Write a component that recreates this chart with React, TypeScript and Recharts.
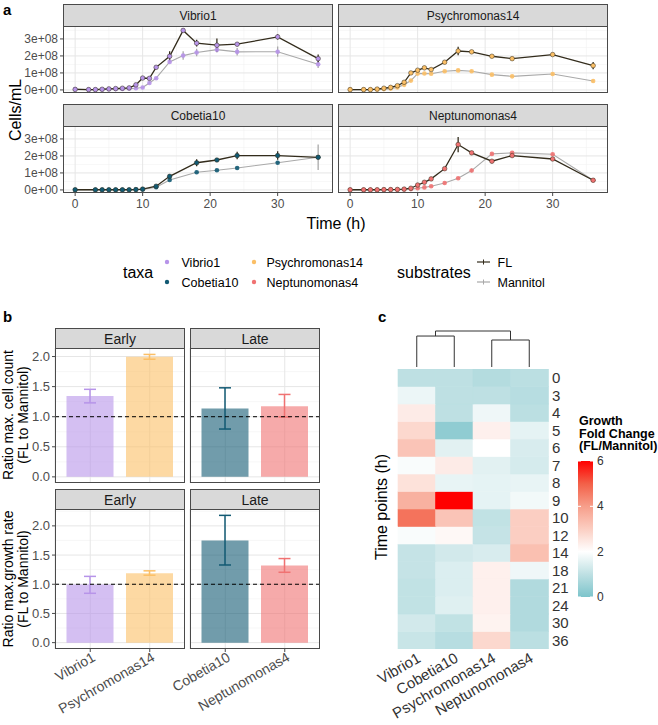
import React from 'react'
import { ComposedChart, Line, Bar, Cell, XAxis, YAxis, ErrorBar, CartesianGrid, ReferenceLine } from 'recharts'

const FONT = '"Liberation Sans", Arial, Helvetica, sans-serif'
const INK = '#1a1a1a'
const TICK = '#4d4d4d'
const BORDER = '#4a4a4a'
const STRIP = '#d9d9d9'

const taxa = ['Vibrio1', 'Cobetia10', 'Psychromonas14', 'Neptunomonas4']
const taxaColors = ['#b794e9', '#125a73', '#fbbf66', '#f07272']
const flColor = '#332c1c'
const manColor = '#a9a9a9'

// panel a: cell counts, in units of 1e8 cells/mL
const timesFull = [0, 2, 3, 4, 5, 6, 7, 8, 9, 10, 11, 12, 14, 16, 18, 21, 24, 30, 36]
const timesCobetia = [0, 3, 4, 5, 6, 7, 8, 9, 10, 12, 14, 18, 21, 24, 30, 36]

const vibrioFL = [0.03, 0.02, 0.02, 0.04, 0.06, 0.08, 0.1, 0.12, 0.3, 0.7, 0.68, 1.33, 1.98, 3.5, 2.75, 2.63, 2.69, 3.12, 1.84]
const vibrioFLsd = [0, 0, 0, 0, 0, 0, 0, 0, 0.03, 0.03, 0.03, 0.05, 0.3, 0.05, 0.2, 0.4, 0.12, 0.15, 0.25]
const vibrioMan = [0.05, 0.02, 0.02, 0.03, 0.04, 0.05, 0.06, 0.08, 0.1, 0.14, 0.41, 0.69, 1.65, 2.02, 2.2, 2.37, 2.24, 2.25, 1.51]
const vibrioMansd = [0, 0, 0, 0, 0, 0, 0, 0, 0, 0.02, 0.03, 0.03, 0.05, 0.25, 0.22, 0.17, 0.22, 0.3, 0.22]

const cobetiaFL = [0.01, 0.01, 0.01, 0.01, 0.01, 0.01, 0.01, 0.02, 0.05, 0.22, 0.8, 1.6, 1.76, 2.02, 2.02, 1.92]
const cobetiaFLsd = [0, 0, 0, 0, 0, 0, 0, 0, 0.02, 0.05, 0.08, 0.2, 0.05, 0.22, 0.25, 0.05]
const cobetiaMan = [0.01, 0.01, 0.01, 0.01, 0.01, 0.01, 0.01, 0.02, 0.03, 0.16, 0.59, 1.04, 1.16, 1.29, 1.6, 1.92]
const cobetiaMansd = [0, 0, 0, 0, 0, 0, 0, 0, 0.02, 0.04, 0.03, 0.03, 0.03, 0.03, 0.03, 0.75]

const psychroFL = [0.02, 0.02, 0.02, 0.05, 0.1, 0.15, 0.25, 0.45, 1.0, 1.16, 1.3, 1.2, 1.63, 2.29, 2.24, 1.98, 1.84, 2.08, 1.43]
const psychroFLsd = [0, 0, 0, 0, 0, 0, 0, 0, 0.02, 0.03, 0.03, 0.03, 0.04, 0.25, 0.08, 0.06, 0.06, 0.06, 0.22]
const psychroMan = [0.02, 0.02, 0.02, 0.03, 0.05, 0.08, 0.15, 0.3, 0.55, 0.96, 0.97, 0.95, 1.1, 1.15, 1.1, 0.9, 0.8, 0.94, 0.53]
const psychroMansd = [0, 0, 0, 0, 0, 0, 0, 0, 0.02, 0.02, 0.02, 0.02, 0.03, 0.03, 0.03, 0.03, 0.03, 0.03, 0.03]

const neptuFL = [0.01, 0.01, 0.01, 0.01, 0.02, 0.02, 0.03, 0.05, 0.1, 0.29, 0.45, 0.65, 1.25, 2.67, 2.18, 1.69, 2.02, 1.82, 0.57]
const neptuFLsd = [0, 0, 0, 0, 0, 0, 0, 0, 0.02, 0.03, 0.03, 0.04, 0.05, 0.45, 0.1, 0.12, 0.05, 0.05, 0.03]
const neptuMan = [0.01, 0.01, 0.01, 0.01, 0.01, 0.02, 0.02, 0.03, 0.05, 0.1, 0.15, 0.22, 0.41, 0.69, 1.14, 2.12, 2.18, 2.1, 0.57]
const neptuMansd = [0, 0, 0, 0, 0, 0, 0, 0, 0, 0.02, 0.02, 0.02, 0.03, 0.03, 0.12, 0.04, 0.04, 0.04, 0.03]

// panel b: FL / Mannitol ratios (mean, lower, upper)
const earlyTaxa = ['Vibrio1', 'Psychromonas14']
const lateTaxa = ['Cobetia10', 'Neptunomonas4']
const countEarly = [1.345, 1.995]
const countEarlyLow = [1.23, 1.955]
const countEarlyHigh = [1.455, 2.035]
const countLate = [1.135, 1.175]
const countLateLow = [0.795, 0.995]
const countLateHigh = [1.48, 1.37]
const rateEarly = [0.995, 1.19]
const rateEarlyLow = [0.845, 1.155]
const rateEarlyHigh = [1.135, 1.23]
const rateLate = [1.75, 1.32]
const rateLateLow = [1.33, 1.205]
const rateLateHigh = [2.18, 1.44]

// panel c: growth fold change heatmap, one array per taxon, rows follow timePoints
const timePoints = ['0', '3', '4', '5', '6', '7', '8', '9', '10', '12', '14', '18', '21', '24', '30', '36']
const heatVibrio1 = [1.0, 1.7, 2.4, 2.8, 3.2, 1.9, 2.6, 3.6, 4.7, 1.9, 1.1, 1.1, 1.05, 1.05, 1.3, 1.15]
const heatCobetia10 = [1.0, 1.0, 1.0, 0.3, 1.55, 2.4, 1.65, 6.0, 3.2, 2.15, 1.3, 1.45, 1.45, 1.5, 1.05, 0.9]
const heatPsychromonas14 = [0.85, 1.0, 1.75, 2.3, 2.0, 1.55, 1.6, 1.6, 1.05, 1.1, 1.4, 2.3, 2.3, 2.3, 2.25, 2.8]
const heatNeptunomonas4 = [0.95, 0.9, 0.95, 1.6, 1.4, 1.35, 1.65, 1.8, 3.0, 3.0, 3.3, 1.75, 0.8, 0.8, 0.8, 0.95]
const heatColumns = [heatVibrio1, heatCobetia10, heatPsychromonas14, heatNeptunomonas4]
const legendTicks = [0, 2, 4, 6]

// dendrogram merge heights (relative)
const mergeLeft = 0.86
const mergeRight = 0.75
const mergeRoot = 1.0

const heatStops: [number, number[]][] = [
  [0, [124, 196, 203]], [1, [190, 224, 227]], [2, [255, 255, 255]],
  [3, [251, 206, 194]], [4, [246, 158, 138]], [5, [243, 96, 72]], [6, [255, 0, 0]],
]

function heatColor(v: number) {
  let i = 0
  while (i < heatStops.length - 2 && v > heatStops[i + 1][0]) i++
  const [v0, c0] = heatStops[i]
  const [v1, c1] = heatStops[i + 1]
  const f = Math.max(0, Math.min(1, (v - v0) / (v1 - v0)))
  const c = c0.map((a, k) => Math.round(a + (c1[k] - a) * f))
  return `rgb(${c.join(',')})`
}

const colorOf = (name: string) => taxaColors[taxa.indexOf(name)]

const Strip = ({ x, y, w, h, label, size }: any) => (
  <div style={{ position: 'absolute', left: x, top: y, width: w, height: h + 1, boxSizing: 'border-box', background: STRIP, border: `1px solid ${BORDER}`, display: 'flex', alignItems: 'center', justifyContent: 'center', fontSize: size, color: INK, fontFamily: FONT }}>
    {label}
  </div>
)

const Frame = ({ x, y, w, h }: any) => (
  <div style={{ position: 'absolute', left: x, top: y, width: w, height: h, boxSizing: 'border-box', border: `1px solid ${BORDER}`, pointerEvents: 'none' }} />
)

const RotTick = ({ x, y, payload, size, dx, dy, fill }: any) => (
  <text x={x + dx} y={y + dy} transform={`rotate(-30 ${x + dx} ${y + dy})`} textAnchor="end" fontSize={size} fill={fill} fontFamily={FONT}>
    {payload.value}
  </text>
)

function GrowthPanel({ title, times, fl, flSd, man, manSd, x, y, showX, showY }: any) {
  const color = colorOf(title)
  const data = times.map((t: number, i: number) => ({ t, fl: fl[i], flSd: flSd[i], man: man[i], manSd: manSd[i] }))
  const W = 270
  const H = 67
  const yW = showY ? 58 : 0
  const xH = showX ? 24 : 0
  const padB = showX ? 0 : 10
  const tickStyle = { fontSize: 12, fill: TICK, fontFamily: FONT }
  return (
    <>
      <Strip x={x} y={y - 22} w={W} h={22} label={title} size={12} />
      <div style={{ position: 'absolute', left: x - yW, top: y }}>
        <ComposedChart width={W + yW} height={H + xH + padB} data={data} margin={{ top: 0, right: 0, bottom: padB, left: 0 }}>
          <CartesianGrid stroke="#f1f1f1" strokeWidth={0.6} verticalValues={[5, 15, 25, 35]} horizontalValues={[0.5, 1.5, 2.5, 3.5]} />
          <CartesianGrid stroke="#e6e6e6" strokeWidth={1} verticalValues={[0, 10, 20, 30]} horizontalValues={[0, 1, 2, 3]} />
          <XAxis type="number" dataKey="t" domain={[-1.8, 38.2]} allowDataOverflow ticks={[0, 10, 20, 30]} interval={0}
            hide={!showX} height={xH} tick={tickStyle} tickSize={3} tickMargin={3} axisLine={false} tickLine={{ stroke: BORDER }} />
          <YAxis type="number" domain={[-0.18, 3.76]} allowDataOverflow ticks={[0, 1, 2, 3]} interval={0}
            hide={!showY} width={yW} tick={tickStyle} tickSize={3} tickMargin={2} axisLine={false} tickLine={{ stroke: BORDER }}
            tickFormatter={(v: number) => `${v}e+0${v === 0 ? 0 : 8}`} />
          <Line dataKey="man" stroke={manColor} strokeWidth={1.1} isAnimationActive={false} activeDot={false}
            dot={{ r: 2.3, fill: color, stroke: 'none', fillOpacity: 0.9 }}>
            <ErrorBar dataKey="manSd" width={0} stroke={manColor} strokeWidth={1.3} direction="y" />
          </Line>
          <Line dataKey="fl" stroke={flColor} strokeWidth={1.3} isAnimationActive={false} activeDot={false}
            dot={{ r: 2.3, fill: color, stroke: flColor, strokeWidth: 0.5 }}>
            <ErrorBar dataKey="flSd" width={0} stroke={flColor} strokeWidth={1.3} direction="y" />
          </Line>
        </ComposedChart>
      </div>
      <Frame x={x} y={y} w={W} h={H} />
    </>
  )
}

function RatioPanel({ title, names, mean, low, high, x, y, h, domain, ticks, showX, showY }: any) {
  const W = 130
  const yW = showY ? 40 : 0
  const padL = 45
  const xH = showX ? 80 : 0
  const padB = showX ? 0 : 10
  const data = names.map((name: string, i: number) => {
    const row: any = { name, value: mean[i] }
    row['e' + i] = [mean[i] - low[i], high[i] - mean[i]]
    return row
  })
  return (
    <>
      <Strip x={x} y={y - 20} w={W} h={20} label={title} size={14} />
      <div style={{ position: 'absolute', left: x - yW - padL, top: y }}>
        <ComposedChart width={W + yW + padL} height={h + xH + padB} data={data} margin={{ top: 0, right: 0, bottom: padB, left: padL }}>
          <CartesianGrid stroke="#f1f1f1" strokeWidth={0.6} vertical={false} horizontalValues={[0.25, 0.75, 1.25, 1.75, 2.25]} />
          <CartesianGrid stroke="#e6e6e6" strokeWidth={1} horizontalValues={ticks} />
          <XAxis type="category" dataKey="name" padding={{ left: 5.5, right: 5.5 }} interval={0} hide={!showX} height={xH}
            tickSize={3} tickMargin={2} axisLine={false} tickLine={{ stroke: BORDER }}
            tick={<RotTick size={14} dx={6} dy={6} fill={TICK} />} />
          <YAxis type="number" domain={domain} allowDataOverflow ticks={ticks} interval={0} hide={!showY} width={yW}
            tick={{ fontSize: 13, fill: TICK, fontFamily: FONT }} tickSize={3} tickMargin={2} axisLine={false}
            tickLine={{ stroke: BORDER }} tickFormatter={(v: number) => v.toFixed(1)} />
          <Bar dataKey="value" barSize={47} isAnimationActive={false} fillOpacity={0.6}>
            {names.map((n: string) => <Cell key={n} fill={colorOf(n)} />)}
            <ErrorBar dataKey="e0" width={6} stroke={colorOf(names[0])} strokeWidth={1.5} direction="y" />
            <ErrorBar dataKey="e1" width={6} stroke={colorOf(names[1])} strokeWidth={1.5} direction="y" />
          </Bar>
          <ReferenceLine y={1} stroke="#000" strokeDasharray="4 3" strokeWidth={1} />
        </ComposedChart>
      </div>
      <Frame x={x} y={y} w={W} h={h} />
    </>
  )
}

function Heatmap() {
  const data = taxa.map((name) => {
    const row: any = { name }
    timePoints.forEach((_, i) => { row['r' + i] = 1 })
    return row
  })
  const order = timePoints.map((_, i) => timePoints.length - 1 - i)
  const n = timePoints.length
  const padL = 40
  return (
    <div style={{ position: 'absolute', left: 398 - padL, top: 369 }}>
      <ComposedChart width={180 + padL} height={356} data={data} barCategoryGap={0} barGap={0} margin={{ top: 0, right: 0, bottom: 0, left: padL }}>
        <XAxis type="category" dataKey="name" interval={0} height={76} tickSize={0} tickMargin={2} axisLine={false} tickLine={false}
          tick={<RotTick size={15} dx={5} dy={10} fill="#333" />} />
        <YAxis type="number" orientation="right" domain={[0, n]} allowDataOverflow width={30} interval={0}
          ticks={timePoints.map((_, i) => i + 0.5)} tickSize={0} tickMargin={4} axisLine={false} tickLine={false}
          tick={{ fontSize: 15, fill: '#333', fontFamily: FONT }}
          tickFormatter={(v: number) => timePoints[n - 1 - Math.floor(v)]} />
        {order.map((ri) => (
          <Bar key={ri} dataKey={'r' + ri} stackId="h" isAnimationActive={false}>
            {taxa.map((t, j) => {
              const c = heatColor(heatColumns[j][ri])
              return <Cell key={t} fill={c} stroke={c} strokeWidth={0.6} />
            })}
          </Bar>
        ))}
      </ComposedChart>
    </div>
  )
}

function Dendrogram() {
  const leftLink = [{ x: 0, y: 0 }, { x: 0, y: mergeLeft }, { x: 1, y: mergeLeft }, { x: 1, y: 0 }]
  const rightLink = [{ x: 2, y: 0 }, { x: 2, y: mergeRight }, { x: 3, y: mergeRight }, { x: 3, y: 0 }]
  const rootLink = [{ x: 0.5, y: mergeLeft }, { x: 0.5, y: mergeRoot }, { x: 2.5, y: mergeRoot }, { x: 2.5, y: mergeRight }]
  return (
    <div style={{ position: 'absolute', left: 398, top: 330 }}>
      <ComposedChart width={150} height={37} margin={{ top: 1, right: 0, bottom: 0, left: 0 }}>
        <XAxis type="number" dataKey="x" domain={[-0.5, 3.5]} hide />
        <YAxis type="number" domain={[0, mergeRoot]} hide />
        {[leftLink, rightLink, rootLink].map((d, i) => (
          <Line key={i} data={d} dataKey="y" type="linear" stroke="#333" strokeWidth={1} dot={false} activeDot={false} isAnimationActive={false} />
        ))}
      </ComposedChart>
    </div>
  )
}

function Annotations() {
  const barTop = 461
  const barH = 136
  return (
    <svg width={658} height={725} style={{ position: 'absolute', left: 0, top: 0 }} fontFamily={FONT}>
      <defs>
        <linearGradient id="heatGrad" x1="0" y1="1" x2="0" y2="0">
          {[0, 0.5, 1, 1.5, 2, 2.5, 3, 3.5, 4, 4.5, 5, 5.5, 6].map((v) => (
            <stop key={v} offset={`${(v / 6) * 100}%`} stopColor={heatColor(v)} />
          ))}
        </linearGradient>
      </defs>
      <text x={3} y={15} fontSize={15} fontWeight="bold" fill="#000">a</text>
      <text x={3} y={322} fontSize={15} fontWeight="bold" fill="#000">b</text>
      <text x={378} y={322} fontSize={15} fontWeight="bold" fill="#000">c</text>

      <text transform="translate(15,110) rotate(-90)" textAnchor="middle" dominantBaseline="central" fontSize={16} fill="#000">Cells/mL</text>
      <text x={336} y={229} textAnchor="middle" fontSize={16} fill="#000">Time (h)</text>

      <text x={123} y={278} fontSize={16} fill="#000">taxa</text>
      {taxa.map((t, i) => {
        const col = i === 0 || i === 1 ? 0 : 1
        const row = i === 0 || i === 2 ? 0 : 1
        const cx = col === 0 ? 167 : 254
        const tx = col === 0 ? 181.5 : 266.5
        const cy = 262 + row * 20
        return (
          <g key={t}>
            <circle cx={cx} cy={cy} r={2.2} fill={taxaColors[i]} />
            <text x={tx} y={cy + 4.5} fontSize={12.5} fill="#000">{t}</text>
          </g>
        )
      })}
      <text x={397} y={278} fontSize={16} fill="#000">substrates</text>
      {[['FL', flColor], ['Mannitol', manColor]].map(([label, c], i) => (
        <g key={label}>
          <line x1={477} x2={490} y1={262 + i * 20} y2={262 + i * 20} stroke={c} strokeWidth={1.2} />
          <line x1={483.5} x2={483.5} y1={259.5 + i * 20} y2={264.5 + i * 20} stroke={c} strokeWidth={1} />
          <text x={497.5} y={266.5 + i * 20} fontSize={12.5} fill="#000">{label}</text>
        </g>
      ))}

      <text transform="translate(8,415) rotate(-90)" textAnchor="middle" dominantBaseline="central" fontSize={14} fill="#000">Ratio max. cell count</text>
      <text transform="translate(23,415) rotate(-90)" textAnchor="middle" dominantBaseline="central" fontSize={14} fill="#000">(FL to Mannitol)</text>
      <text transform="translate(8,579) rotate(-90)" textAnchor="middle" dominantBaseline="central" fontSize={14} fill="#000">Ratio max.growth rate</text>
      <text transform="translate(23,579) rotate(-90)" textAnchor="middle" dominantBaseline="central" fontSize={14} fill="#000">(FL to Mannitol)</text>

      <text transform="translate(381,507) rotate(-90)" textAnchor="middle" dominantBaseline="central" fontSize={16} fill="#000">Time points (h)</text>

      <text x={579} y={425} fontSize={12.5} fontWeight="bold" fill="#000">Growth</text>
      <text x={579} y={437.5} fontSize={12.5} fontWeight="bold" fill="#000">Fold Change</text>
      <text x={579} y={450} fontSize={12.5} fontWeight="bold" fill="#000">(FL/Mannitol)</text>
      <rect x={578} y={barTop} width={15} height={barH} fill="url(#heatGrad)" />
      {legendTicks.map((v) => {
        const ty = barTop + ((6 - v) / 6) * barH
        return (
          <g key={v}>
            <line x1={578} x2={581} y1={ty} y2={ty} stroke="#fff" strokeWidth={1} />
            <line x1={590} x2={593} y1={ty} y2={ty} stroke="#fff" strokeWidth={1} />
            <text x={597} y={ty + 4} fontSize={12} fill="#333">{v}</text>
          </g>
        )
      })}
    </svg>
  )
}

export default function App() {
  return (
    <div style={{ position: 'absolute', left: 0, top: 0, width: 658, height: 725, background: '#fff', overflow: 'hidden', fontFamily: FONT }}>
      <Annotations />
      <GrowthPanel title="Vibrio1" times={timesFull} fl={vibrioFL} flSd={vibrioFLsd} man={vibrioMan} manSd={vibrioMansd} x={63} y={26} showY />
      <GrowthPanel title="Psychromonas14" times={timesFull} fl={psychroFL} flSd={psychroFLsd} man={psychroMan} manSd={psychroMansd} x={338} y={26} />
      <GrowthPanel title="Cobetia10" times={timesCobetia} fl={cobetiaFL} flSd={cobetiaFLsd} man={cobetiaMan} manSd={cobetiaMansd} x={63} y={126} showY showX />
      <GrowthPanel title="Neptunomonas4" times={timesFull} fl={neptuFL} flSd={neptuFLsd} man={neptuMan} manSd={neptuMansd} x={338} y={126} showX />

      <RatioPanel title="Early" names={earlyTaxa} mean={countEarly} low={countEarlyLow} high={countEarlyHigh}
        x={55} y={348} h={135} domain={[-0.102, 2.142]} ticks={[0, 0.5, 1, 1.5, 2]} showY />
      <RatioPanel title="Late" names={lateTaxa} mean={countLate} low={countLateLow} high={countLateHigh}
        x={190} y={348} h={135} domain={[-0.102, 2.142]} ticks={[0, 0.5, 1, 1.5, 2]} />
      <RatioPanel title="Early" names={earlyTaxa} mean={rateEarly} low={rateEarlyLow} high={rateEarlyHigh}
        x={55} y={509} h={140} domain={[-0.109, 2.289]} ticks={[0, 0.5, 1, 1.5, 2]} showY showX />
      <RatioPanel title="Late" names={lateTaxa} mean={rateLate} low={rateLateLow} high={rateLateHigh}
        x={190} y={509} h={140} domain={[-0.109, 2.289]} ticks={[0, 0.5, 1, 1.5, 2]} showX />

      <Dendrogram />
      <Heatmap />
    </div>
  )
}
